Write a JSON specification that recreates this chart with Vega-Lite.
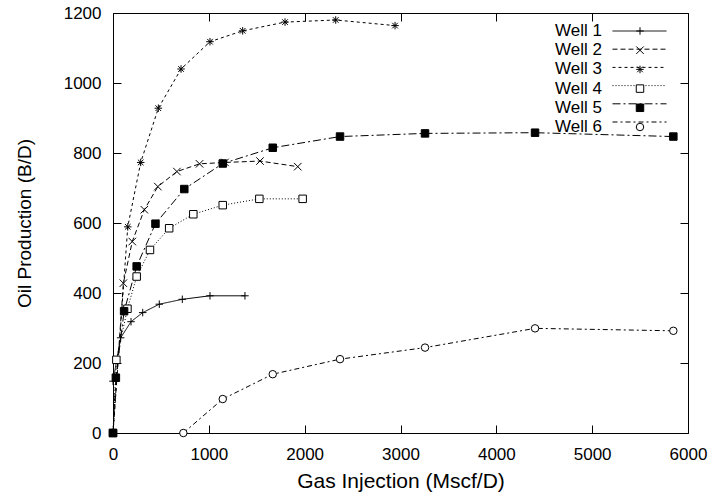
{
  "$schema": "https://vega.github.io/schema/vega-lite/v6.json",
  "width": 575,
  "height": 420,
  "autosize": {"type": "none"},
  "padding": {"left": 113, "top": 13, "right": 24, "bottom": 61},
  "background": "white",
  "config": {
    "font": "Liberation Sans",
    "view": {"stroke": null},
    "axis": {"grid": false},
    "legend": {"labelColor": "black", "labelFont": "Liberation Sans"}
  },
  "data": {
    "values": [
      {"well": "Well 1", "marker": "Well 1", "gas": 0, "oil": 148},
      {"well": "Well 1", "marker": "Well 1", "gas": 80, "oil": 272},
      {"well": "Well 1", "marker": "Well 1", "gas": 188, "oil": 318},
      {"well": "Well 1", "marker": "Well 1", "gas": 310, "oil": 344},
      {"well": "Well 1", "marker": "Well 1", "gas": 483, "oil": 368},
      {"well": "Well 1", "marker": "Well 1", "gas": 723, "oil": 382},
      {"well": "Well 1", "marker": "Well 1", "gas": 1012, "oil": 392},
      {"well": "Well 1", "marker": "Well 1", "gas": 1377, "oil": 392},
      {"well": "Well 2", "marker": "Well 2", "gas": 0, "oil": 0},
      {"well": "Well 2", "marker": "Well 2", "gas": 108, "oil": 428},
      {"well": "Well 2", "marker": "Well 2", "gas": 201, "oil": 547},
      {"well": "Well 2", "marker": "Well 2", "gas": 327, "oil": 638},
      {"well": "Well 2", "marker": "Well 2", "gas": 468, "oil": 704},
      {"well": "Well 2", "marker": "Well 2", "gas": 667, "oil": 747},
      {"well": "Well 2", "marker": "Well 2", "gas": 903, "oil": 769},
      {"well": "Well 2", "marker": "Well 2", "gas": 1169, "oil": 773},
      {"well": "Well 2", "marker": "Well 2", "gas": 1534, "oil": 777},
      {"well": "Well 2", "marker": "Well 2", "gas": 1928, "oil": 761},
      {"well": "Well 3", "marker": "Well 3", "gas": 0, "oil": 0},
      {"well": "Well 3", "marker": "Well 3", "gas": 154, "oil": 589},
      {"well": "Well 3", "marker": "Well 3", "gas": 289, "oil": 773},
      {"well": "Well 3", "marker": "Well 3", "gas": 473, "oil": 928},
      {"well": "Well 3", "marker": "Well 3", "gas": 710, "oil": 1040},
      {"well": "Well 3", "marker": "Well 3", "gas": 1012, "oil": 1118},
      {"well": "Well 3", "marker": "Well 3", "gas": 1353, "oil": 1149},
      {"well": "Well 3", "marker": "Well 3", "gas": 1795, "oil": 1174},
      {"well": "Well 3", "marker": "Well 3", "gas": 2324, "oil": 1180},
      {"well": "Well 3", "marker": "Well 3", "gas": 2943, "oil": 1164},
      {"well": "Well 4", "marker": "Well 4", "gas": 0, "oil": 0},
      {"well": "Well 4", "marker": "Well 4", "gas": 35, "oil": 209},
      {"well": "Well 4", "marker": "Well 4", "gas": 151, "oil": 355},
      {"well": "Well 4", "marker": "Well 4", "gas": 247, "oil": 447},
      {"well": "Well 4", "marker": "Well 4", "gas": 386, "oil": 523},
      {"well": "Well 4", "marker": "Well 4", "gas": 586, "oil": 585},
      {"well": "Well 4", "marker": "Well 4", "gas": 838, "oil": 625},
      {"well": "Well 4", "marker": "Well 4", "gas": 1145, "oil": 651},
      {"well": "Well 4", "marker": "Well 4", "gas": 1527, "oil": 669},
      {"well": "Well 4", "marker": "Well 4", "gas": 1979, "oil": 669},
      {"well": "Well 5", "marker": "Well 5", "gas": 0, "oil": 0},
      {"well": "Well 5", "marker": "Well 5", "gas": 30, "oil": 158},
      {"well": "Well 5", "marker": "Well 5", "gas": 116, "oil": 348},
      {"well": "Well 5", "marker": "Well 5", "gas": 247, "oil": 476},
      {"well": "Well 5", "marker": "Well 5", "gas": 443, "oil": 598},
      {"well": "Well 5", "marker": "Well 5", "gas": 744, "oil": 697},
      {"well": "Well 5", "marker": "Well 5", "gas": 1145, "oil": 770},
      {"well": "Well 5", "marker": "Well 5", "gas": 1667, "oil": 815},
      {"well": "Well 5", "marker": "Well 5", "gas": 2369, "oil": 847},
      {"well": "Well 5", "marker": "Well 5", "gas": 3256, "oil": 856},
      {"well": "Well 5", "marker": "Well 5", "gas": 4404, "oil": 858},
      {"well": "Well 5", "marker": "Well 5", "gas": 5847, "oil": 847},
      {"well": "Well 6", "marker": "Well 6", "gas": 734, "oil": 0},
      {"well": "Well 6", "marker": "Well 6", "gas": 1145, "oil": 97},
      {"well": "Well 6", "marker": "Well 6", "gas": 1667, "oil": 168},
      {"well": "Well 6", "marker": "Well 6", "gas": 2369, "oil": 211},
      {"well": "Well 6", "marker": "Well 6", "gas": 3256, "oil": 244},
      {"well": "Well 6", "marker": "Well 6", "gas": 4404, "oil": 299},
      {"well": "Well 6", "marker": "Well 6", "gas": 5847, "oil": 292}
    ]
  },
  "layer": [
    {
      "mark": {"type": "line", "stroke": "black", "strokeWidth": 1},
      "encoding": {
        "x": {"field": "gas", "type": "quantitative", "scale": {"domain": [0, 6000], "nice": false},
          "axis": {"orient": "bottom", "values": [0, 1000, 2000, 3000, 4000, 5000, 6000], "format": "d", "domainColor": "black", "tickColor": "black", "labelColor": "black", "titleColor": "black", "titleFontWeight": "normal", "labelFlush": false, "tickSize": -8, "labelPadding": 21, "labelFontSize": 17, "title": "Gas Injection (Mscf/D)", "titleFontSize": 21, "titleX": 287.5, "titleY": 54, "titleBaseline": "alphabetic", "titleAlign": "center"}},
        "y": {"field": "oil", "type": "quantitative", "scale": {"domain": [0, 1200], "nice": false},
          "axis": {"orient": "left", "values": [0, 200, 400, 600, 800, 1000, 1200], "format": "d", "domainColor": "black", "tickColor": "black", "labelColor": "black", "titleColor": "black", "titleFontWeight": "normal", "labelFlush": false, "tickSize": -8, "labelPadding": 20, "labelFontSize": 17, "title": "Oil Production (B/D)", "titleFontSize": 19, "titleX": -79, "titleY": 210, "titleAngle": -90, "titleAlign": "center", "titleBaseline": "bottom"}},
        "strokeDash": {"field": "well", "type": "nominal",
          "scale": {"domain": ["Well 1", "Well 2", "Well 3", "Well 4", "Well 5", "Well 6"], "range": [[1, 0], [5, 3], [3, 3], [1, 2], [8, 3, 2, 3], [5, 3, 2, 3]]},
          "legend": {"title": null, "orient": "top-right", "offset": 9, "padding": 0, "symbolType": "stroke", "symbolSize": 2916, "symbolStrokeColor": "black", "symbolStrokeWidth": 1, "clipHeight": 18, "rowPadding": 0.2, "labelFontSize": 1, "labelOpacity": 0, "labelOffset": 8.7, "labelLimit": 0}}
      }
    },
    {
      "mark": {"type": "point", "filled": false, "strokeWidth": 1, "size": 56, "opacity": 1},
      "encoding": {
        "x": {"field": "gas", "type": "quantitative",
          "axis": {"orient": "top", "values": [0, 1000, 2000, 3000, 4000, 5000, 6000], "domainColor": "black", "tickColor": "black", "tickSize": -8, "labels": false, "title": null}},
        "y": {"field": "oil", "type": "quantitative",
          "axis": {"orient": "right", "values": [0, 200, 400, 600, 800, 1000, 1200], "domainColor": "black", "tickColor": "black", "tickSize": -8, "labels": false, "title": null}},
        "shape": {"field": "marker", "type": "nominal",
          "scale": {"domain": ["Well 1", "Well 2", "Well 3", "Well 4", "Well 5", "Well 6"], "range": ["M-1,0L1,0M0,-1L0,1", "M-1,-1L1,1M-1,1L1,-1", "M-1,0L1,0M0,-1L0,1M-0.75,-0.75L0.75,0.75M-0.75,0.75L0.75,-0.75", "square", "square", "circle"]},
          "legend": {"title": null, "orient": "none", "legendX": 518.5, "legendY": 9.5, "padding": 0, "symbolSize": 56, "symbolStrokeWidth": 1, "rowPadding": 1.2, "labelFontSize": 17, "labelAlign": "right", "labelOffset": -46.5, "labelLimit": 0}},
        "fill": {"field": "marker", "type": "nominal",
          "scale": {"domain": ["Well 1", "Well 2", "Well 3", "Well 4", "Well 5", "Well 6"], "range": ["white", "white", "white", "white", "black", "white"]}},
        "stroke": {"field": "marker", "type": "nominal",
          "scale": {"domain": ["Well 1", "Well 2", "Well 3", "Well 4", "Well 5", "Well 6"], "range": ["black", "black", "black", "black", "black", "black"]}}
      }
    }
  ],
  "resolve": {"axis": {"x": "independent", "y": "independent"}}
}
